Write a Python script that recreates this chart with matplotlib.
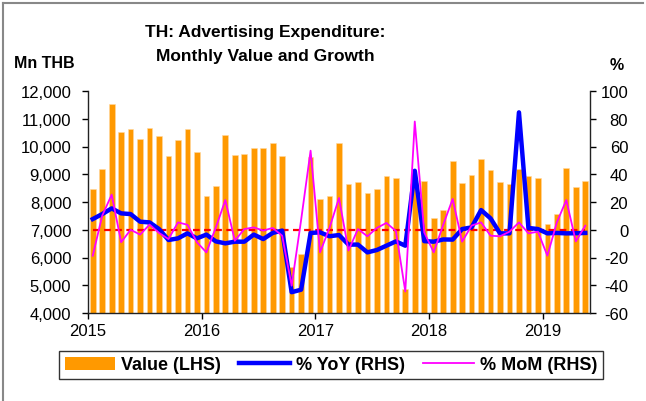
import numpy as np
import pandas as pd
import matplotlib
matplotlib.use("Agg")
import matplotlib.pyplot as plt
from matplotlib.patches import Patch
from matplotlib.lines import Line2D

plt.rcParams['font.family'] = ['Liberation Sans', 'DejaVu Sans']
plt.rcParams['axes.unicode_minus'] = False

# monthly data, Jan 2015 - May 2019
months = pd.date_range('2015-01-01', periods=53, freq='MS')

value_mn_thb = [
    8470, 9190, 11540, 10540, 10630, 10270, 10670, 10380, 9650, 10220, 10630, 9810,
    8200, 8560, 10410, 9680, 9740, 9960, 9930, 10130, 9650, 5640, 6120, 9610,
    8110, 8220, 10130, 8650, 8730, 8320, 8470, 8920, 8850, 4850, 8700, 8750,
    7410, 7720, 9480, 8680, 8970, 9540, 9150, 8720, 8650, 9180, 8940, 8860,
    7210, 7580, 9240, 8530, 8760,
]

yoy_pct = [
    7.7, 11.3, 15.4, 11.8, 11.3, 5.8, 5.3, 0.5, -7.4, -6.2, -2.6, -6.2,
    -3.5, -8.4, -9.8, -8.6, -8.6, -3.5, -6.7, -2.3, -0.6, -45.0, -43.2, -2.3,
    -1.9, -4.7, -3.8, -10.7, -10.7, -16.3, -14.6, -11.5, -8.4, -11.5, 42.5, -8.2,
    -8.6, -7.0, -7.1, 0.5, 1.7, 14.2, 8.2, -2.6, -2.6, 84.6, 1.3, 0.5,
    -2.6, -2.3, -2.6, -2.5, -2.3,
]

mom_pct = [
    -18.7, 10.1, 25.3, -9.0, 0.0, -3.5, 3.7, -2.3, -6.7, 5.3, 3.6, -9.0,
    -16.3, 1.7, 21.4, -7.9, 0.5, 1.7, -0.6, 1.3, -4.3, -40.3, 7.0, 57.0,
    -16.3, 1.4, 22.9, -15.0, 0.5, -4.7, 1.3, 4.9, -0.8, -44.5, 78.0, -1.9,
    -16.3, 3.5, 22.2, -8.6, 3.0, 5.3, -4.3, -4.7, -1.4, 5.3, -2.6, -1.4,
    -18.7, 5.3, 21.4, -8.4, 2.9,
]

W, H = 646, 402
fig = plt.figure(figsize=(W / 100, H / 100), dpi=100)
ax = fig.add_axes([88 / W, 1 - 314 / H, (590 - 88) / W, (314 - 92) / H])
ax2 = ax.twinx()

x = np.arange(len(months)) + 0.5

ax.bar(x, value_mn_thb, width=0.6, color='#FF9900', edgecolor='#FFD9A0', linewidth=0.4)
ax.set_ylim(4000, 12000)
ax.set_yticks(np.arange(4000, 12001, 1000))
ax.set_yticklabels([f'{v:,}' for v in range(4000, 12001, 1000)])
ax.set_xlim(0, 53)

year_pos = [i for i, m in enumerate(months) if m.month == 1]
ax.set_xticks(year_pos)
ax.set_xticklabels([str(months[i].year) for i in year_pos])

ax2.hlines(0, x[0], x[-1], colors='red', linestyles=(0, (3, 2)), linewidth=1.6, zorder=2)
ax2.plot(x, yoy_pct, color='#0000FF', linewidth=3.2, zorder=3)
ax2.plot(x, mom_pct, color='#FF00FF', linewidth=1.3, zorder=4)
ax2.set_ylim(-60, 100)
ax2.set_yticks(np.arange(-60, 101, 20))

for a in (ax, ax2):
    a.spines['top'].set_visible(False)
    for s in a.spines.values():
        s.set_linewidth(1.0)
        s.set_color('#222222')
ax.spines['right'].set_visible(False)
ax2.spines['left'].set_visible(False)
ax2.spines['bottom'].set_visible(False)

ax.tick_params(axis='y', direction='out', length=4.5, width=1, pad=7.5, labelsize=12)
ax.tick_params(axis='x', direction='out', length=4.5, width=1, pad=3, labelsize=12)
ax2.tick_params(axis='y', direction='out', length=4.5, width=1, pad=23, labelsize=12)
for lab in ax2.get_yticklabels():
    lab.set_horizontalalignment('right')

fig.text(265 / W, 1 - 33 / H, 'TH: Advertising Expenditure:',
         ha='center', va='center', fontsize=12.5, fontweight='bold')
fig.text(265 / W, 1 - 56 / H, 'Monthly Value and Growth',
         ha='center', va='center', fontsize=12.5, fontweight='bold')
fig.text(44 / W, 1 - 64 / H, 'Mn THB', ha='center', va='center', fontsize=11.5, fontweight='bold')
fig.text(617 / W, 1 - 66 / H, '%', ha='center', va='center', fontsize=11.5, fontweight='bold')

handles = [
    Patch(facecolor='#FF9900', edgecolor='none', label='Value (LHS)'),
    Line2D([], [], color='#0000FF', linewidth=3.2, label='% YoY (RHS)'),
    Line2D([], [], color='#FF00FF', linewidth=1.3, label='% MoM (RHS)'),
]
leg = fig.legend(handles=handles, loc='center', ncol=3,
                 bbox_to_anchor=(331 / W, 1 - 366 / H), frameon=True, fancybox=False,
                 edgecolor='black', prop={'weight': 'bold', 'size': 13},
                 handlelength=2.8, handletextpad=0.35, columnspacing=1.0,
                 borderpad=0.3)
leg.get_frame().set_linewidth(1.0)

# outer border (left and top)
fig.add_artist(Line2D([3 / W, 3 / W], [0, 1 - 4 / H], color='#888888', linewidth=1.5,
                      transform=fig.transFigure))
fig.add_artist(Line2D([3 / W, 643 / W], [1 - 4 / H, 1 - 4 / H], color='#888888', linewidth=1.5,
                      transform=fig.transFigure))

fig.savefig('out.png', dpi=100)
